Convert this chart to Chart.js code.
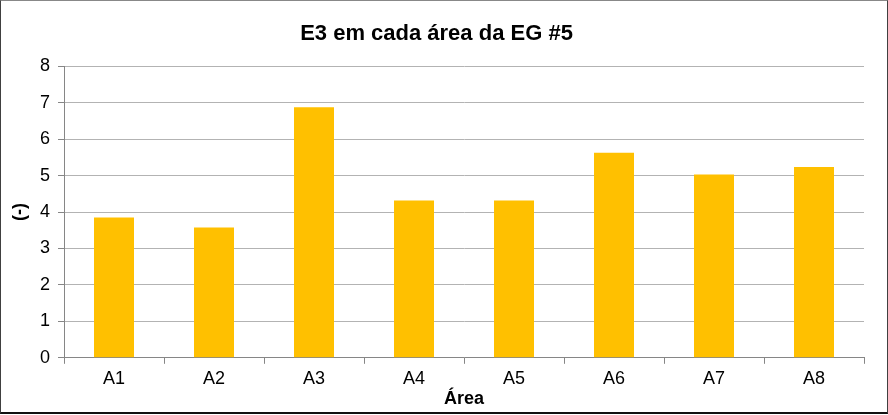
<!DOCTYPE html>
<html>
<head>
<meta charset="utf-8">
<script src="https://cdn.jsdelivr.net/npm/chart.js@4"></script>
<style>
  html, body { margin: 0; padding: 0; background: #fff; }
  #wrap { position: relative; width: 886px; height: 411px; border: 1px solid #404040; border-top-color: #888; border-bottom: 2px solid #111; }
</style>
</head>
<body>
<div id="wrap"><canvas id="grafico"></canvas></div>
<script>
// categorias e valores
var areas = ['A1', 'A2', 'A3', 'A4', 'A5', 'A6', 'A7', 'A8'];
var valoresE3 = [3.85, 3.58, 6.88, 4.32, 4.32, 5.63, 5.03, 5.24];
var ticksY = [0, 1, 2, 3, 4, 5, 6, 7, 8];

Chart.defaults.font.family = "'Liberation Sans', Arial, sans-serif";
Chart.defaults.color = '#000';

var ctx = document.getElementById('grafico').getContext('2d');
new Chart(ctx, {
  type: 'bar',
  data: {
    labels: areas,
    datasets: [{
      label: 'E3',
      data: valoresE3,
      backgroundColor: '#ffc000',
      borderWidth: 0,
      barPercentage: 0.4,
      categoryPercentage: 1
    }]
  },
  options: {
    responsive: true,
    maintainAspectRatio: false,
    animation: false,
    layout: { padding: { left: 8, right: 23, top: 20, bottom: 2 } },
    plugins: {
      legend: { display: false },
      tooltip: { enabled: false },
      title: {
        display: true,
        text: 'E3 em cada área da EG #5',
        font: { size: 22, weight: 'bold' },
        color: '#000',
        padding: { top: 0, bottom: 19 }
      }
    },
    scales: {
      x: {
        grid: { display: true, drawOnChartArea: false, color: '#868686', tickLength: 6, offset: true },
        border: { color: '#868686' },
        ticks: { font: { size: 18 }, padding: 4 },
        title: { display: true, text: 'Área', font: { size: 18, weight: 'bold' }, padding: { top: -5, bottom: 0 } }
      },
      y: {
        min: 0,
        max: 8,
        afterBuildTicks: function (scale) {
          scale.ticks = ticksY.map(function (v) { return { value: v }; });
        },
        afterFit: function (scale) { scale.width = 55; },
        grid: { color: '#b3b3b3', tickColor: '#868686', tickLength: 6 },
        border: { color: '#868686' },
        ticks: { font: { size: 18 }, padding: 8 },
        title: { display: true, text: '(-)', font: { size: 18, weight: 'bold' }, padding: 0 }
      }
    }
  }
});
</script>
</body>
</html>
